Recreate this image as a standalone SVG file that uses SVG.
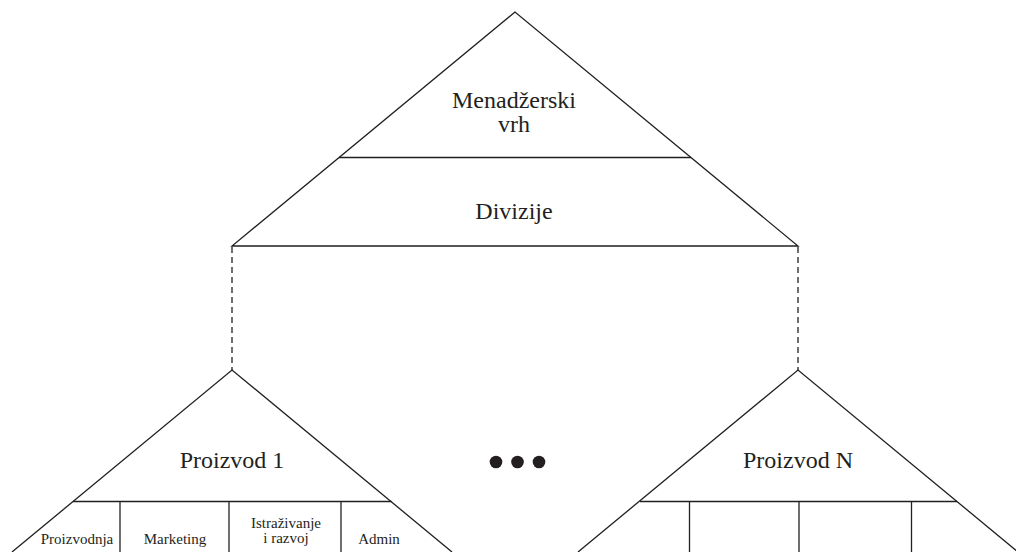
<svg xmlns="http://www.w3.org/2000/svg" width="1016" height="552" viewBox="0 0 1016 552">
<style>
.ln{fill:none;stroke:#231f20;stroke-width:1.3}
.ds{fill:none;stroke:#231f20;stroke-width:1.3;stroke-dasharray:6 4}
.t{font-family:"Liberation Serif","Times New Roman",serif;fill:#231f20;text-anchor:middle}
.big{font-size:24px}
.sm{font-size:15px}
</style>
<rect width="1016" height="552" fill="#fff"/>
<g id="top">
<path class="ln" d="M515,12 L232,246 L798,246 Z"/>
<line class="ln" x1="339" y1="157.5" x2="691" y2="157.5"/>
<text class="t big" x="514" y="108">Menadžerski</text>
<text class="t big" x="514" y="132">vrh</text>
<text class="t big" x="514" y="219">Divizije</text>
</g>
<g id="connectors">
<line class="ds" x1="232" y1="247" x2="232" y2="370"/>
<line class="ds" x1="798" y1="247" x2="798" y2="370"/>
</g>
<g id="proizvod1">
<path class="ln" d="M12,552 L232,370 L452,552"/>
<line class="ln" x1="73" y1="501.5" x2="391.5" y2="501.5"/>
<line class="ln" x1="120" y1="501.5" x2="120" y2="552"/>
<line class="ln" x1="229" y1="501.5" x2="229" y2="552"/>
<line class="ln" x1="341" y1="501.5" x2="341" y2="552"/>
<text class="t big" x="232" y="468">Proizvod 1</text>
<text class="t sm" x="77" y="544">Proizvodnja</text>
<text class="t sm" x="175" y="544">Marketing</text>
<text class="t sm" x="286" y="528">Istraživanje</text>
<text class="t sm" x="286" y="543">i razvoj</text>
<text class="t sm" x="379" y="544">Admin</text>
</g>
<g id="ellipsis" fill="#231f20">
<circle cx="496" cy="462" r="6.3"/>
<circle cx="517.5" cy="462" r="6.3"/>
<circle cx="539" cy="462" r="6.3"/>
</g>
<g id="proizvodN">
<path class="ln" d="M578,552 L798,370 L1018,552"/>
<line class="ln" x1="640" y1="501.5" x2="957" y2="501.5"/>
<line class="ln" x1="689.5" y1="501.5" x2="689.5" y2="552"/>
<line class="ln" x1="799" y1="501.5" x2="799" y2="552"/>
<line class="ln" x1="911.5" y1="501.5" x2="911.5" y2="552"/>
<text class="t big" x="798" y="468">Proizvod N</text>
</g>
</svg>
